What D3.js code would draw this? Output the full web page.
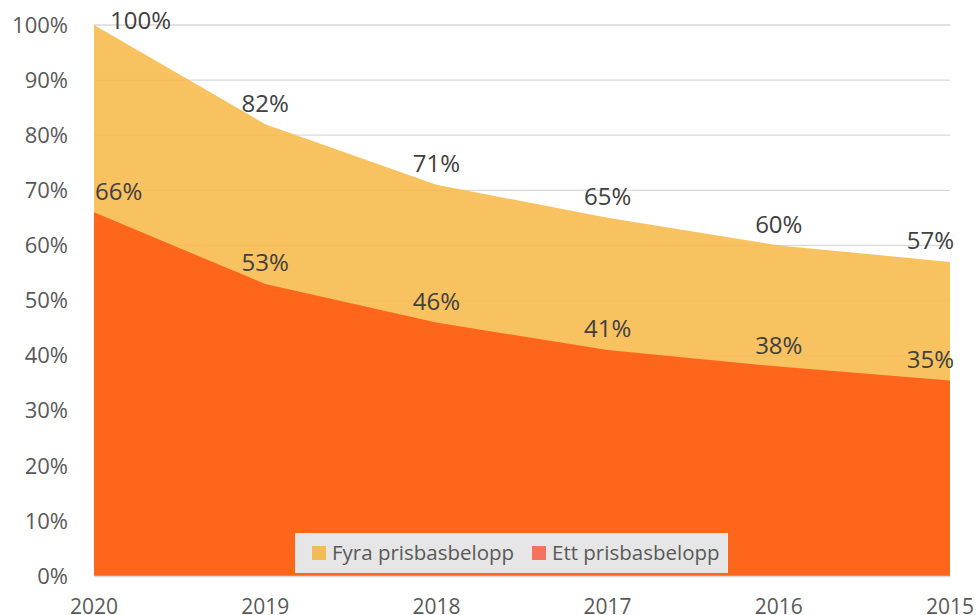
<!DOCTYPE html>
<html>
<head>
<meta charset="utf-8">
<script src="https://cdn.jsdelivr.net/npm/d3@7"></script>
<style>
  body { margin: 0; background: #fff; }
  svg { display: block; font-family: "Open Sans", "Liberation Sans", sans-serif; }
</style>
</head>
<body>
<div id="chart"></div>
<script>
    // data
    var years = ["2020", "2019", "2018", "2017", "2016", "2015"];
    var fyraValues = [1.00, 0.82, 0.71, 0.65, 0.60, 0.57];
    var ettValues = [0.66, 0.53, 0.46, 0.41, 0.38, 0.355];
    var fyraLabels = ["100%", "82%", "71%", "65%", "60%", "57%"];
    var ettLabels = ["66%", "53%", "46%", "41%", "38%", "35%"];
    var yTicks = [0, 0.1, 0.2, 0.3, 0.4, 0.5, 0.6, 0.7, 0.8, 0.9, 1.0];
    var seriesNames = ["Fyra prisbasbelopp", "Ett prisbasbelopp"];

    var W = 976, H = 615;
    var margin = { top: 25, right: 26, bottom: 39, left: 94 };
    var w = W - margin.left - margin.right,
        h = H - margin.top - margin.bottom;

    var svg = d3.select("#chart").append("svg")
        .attr("width", W)
        .attr("height", H);

    var g = svg.append("g")
        .attr("transform", "translate(" + margin.left + "," + margin.top + ")");

    var x = d3.scalePoint().domain(years).range([0, w]);
    var y = d3.scaleLinear().domain([0, 1]).range([h, 0]);

    // grid
    g.selectAll(".grid").data(yTicks.slice(1)).enter().append("line")
        .attr("x1", 0).attr("x2", w)
        .attr("y1", function(d) { return y(d); })
        .attr("y2", function(d) { return y(d); })
        .attr("stroke", "#d9d9d9")
        .attr("stroke-width", 1.3);

    var area = function(vals) {
        return d3.area()
            .x(function(d, i) { return x(years[i]); })
            .y0(y(0))
            .y1(function(d) { return y(d); })(vals);
    };

    g.append("path").attr("d", area(fyraValues))
        .attr("fill", "#F7B94A").attr("fill-opacity", 0.88);
    g.append("path").attr("d", area(ettValues))
        .attr("fill", "#FE5E17").attr("fill-opacity", 0.92);

    // x axis line
    g.append("line")
        .attr("x1", 0).attr("x2", w)
        .attr("y1", y(0) + 0.5).attr("y2", y(0) + 0.5)
        .attr("stroke", "#d9d9d9").attr("stroke-width", 1.3);

    // y axis labels
    g.selectAll(".ytick").data(yTicks).enter().append("text")
        .attr("x", -26)
        .attr("y", function(d) { return y(d); })
        .attr("dy", "0.35em")
        .attr("text-anchor", "end")
        .attr("fill", "#595959")
        .style("font-size", "22px")
        .text(function(d) { return d3.format(".0%")(d); });

    // x axis labels (cut by the bottom edge, as in the original)
    g.selectAll(".xtick").data(years).enter().append("text")
        .attr("x", function(d) { return x(d); })
        .attr("y", h + 38)
        .attr("text-anchor", "middle")
        .attr("fill", "#595959")
        .style("font-size", "21px")
        .text(function(d) { return d; });

    // data labels, kept inside the plot
    function addLabels(vals, labels, padL) {
        var t = g.selectAll(null).data(vals).enter().append("text")
            .attr("y", function(d) { return Math.max(y(d) - 21, -4); })
            .attr("dy", "0.35em")
            .attr("text-anchor", "middle")
            .attr("fill", "#404040")
            .style("font-size", "24px")
            .text(function(d, i) { return labels[i]; });
        t.attr("x", function(d, i) {
            var cx = x(years[i]);
            var half = this.getComputedTextLength() / 2;
            if (cx - half < padL) cx = padL + half;
            if (cx + half > w + 4) cx = w + 4 - half;
            return cx;
        });
    }
    addLabels(fyraValues, fyraLabels, 16);
    addLabels(ettValues, ettLabels, 1);

    // legend
    var legend = svg.append("g").attr("transform", "translate(295,533)");
    legend.append("rect")
        .attr("width", 433).attr("height", 40)
        .attr("fill", "#e6e6e6");
    var swatch = ["#F2BC52", "#F4725E"];
    var lx = [17, 237];
    seriesNames.forEach(function(name, i) {
        legend.append("rect")
            .attr("x", lx[i]).attr("y", 13)
            .attr("width", 14).attr("height", 14)
            .attr("fill", swatch[i]);
        legend.append("text")
            .attr("x", lx[i] + 20).attr("y", 20)
            .attr("dy", "0.35em")
            .attr("fill", "#595959")
            .style("font-size", "20.5px")
            .text(name);
    });
</script>
</body>
</html>
